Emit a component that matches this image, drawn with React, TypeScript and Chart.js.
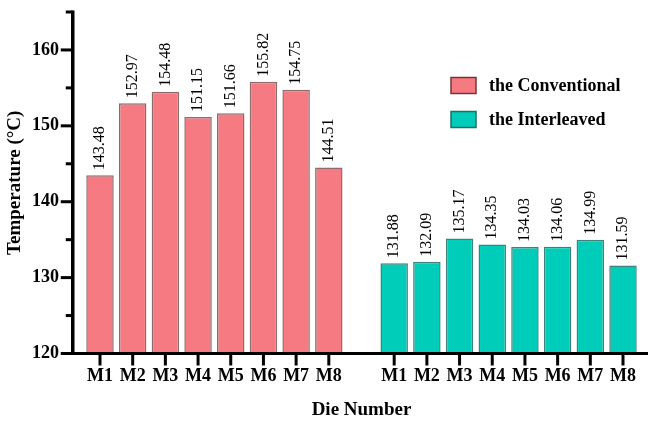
import React, { useEffect, useRef } from "react";
import { Chart, registerables } from "chart.js";

Chart.register(...registerables);

const dies = ["M1", "M2", "M3", "M4", "M5", "M6", "M7", "M8"];
const conventional = [143.48, 152.97, 154.48, 151.15, 151.66, 155.82, 154.75, 144.51];
const interleaved = [131.88, 132.09, 135.17, 134.35, 134.03, 134.06, 134.99, 131.59];
const seriesNames = ["the Conventional", "the Interleaved"];
const seriesColors = ["#F67A81", "#00CDB9"];
const seriesBorders = ["#8d6a6c", "#3d8279"];
const legendBorders = ["#7a3438", "#1f6e66"];
const yMin = 120;
const yMax = 165;
const yStep = 5;
const yLabelStep = 10;
const xTitle = "Die Number";
const yTitle = "Temperature (°C)";

const FONT = "'Liberation Serif', 'Times New Roman', serif";

const axesPlugin = {
  id: "customAxes",
  afterDatasetsDraw(chart: any) {
    const { ctx, scales } = chart;
    const x = scales.x;
    const y = scales.y;
    const axisX = 72.75;
    const axisY = y.getPixelForValue(yMin);
    ctx.save();
    ctx.strokeStyle = "#000";
    ctx.lineCap = "butt";
    ctx.lineWidth = 3.5;
    ctx.beginPath();
    ctx.moveTo(axisX, y.getPixelForValue(yMax) - 1.5);
    ctx.lineTo(axisX, axisY + 1.5);
    ctx.stroke();
    ctx.lineWidth = 3;
    for (let v = yMin; v <= yMax; v += yStep) {
      const py = y.getPixelForValue(v);
      const major = v % yLabelStep === 0;
      ctx.beginPath();
      ctx.moveTo(axisX - (major ? 12 : 7), py);
      ctx.lineTo(axisX, py);
      ctx.stroke();
    }
    ctx.lineWidth = 3;
    ctx.beginPath();
    ctx.moveTo(axisX - 1.75, axisY);
    ctx.lineTo(chart.width, axisY);
    ctx.stroke();
    const labels = chart.data.labels as string[];
    labels.forEach((lab, i) => {
      if (!lab) return;
      const px = x.getPixelForValue(i);
      ctx.beginPath();
      ctx.moveTo(px, axisY);
      ctx.lineTo(px, axisY + 12);
      ctx.stroke();
    });
    ctx.restore();
  },
};

const valueLabelPlugin = {
  id: "valueLabels",
  afterDatasetsDraw(chart: any) {
    const { ctx } = chart;
    ctx.save();
    ctx.fillStyle = "#000";
    ctx.font = `16px ${FONT}`;
    ctx.textAlign = "left";
    ctx.textBaseline = "middle";
    chart.data.datasets.forEach((ds: any, di: number) => {
      const meta = chart.getDatasetMeta(di);
      meta.data.forEach((el: any, i: number) => {
        const v = ds.data[i];
        if (v === null || v === undefined) return;
        ctx.save();
        ctx.translate(el.x, el.y - 5);
        ctx.rotate(-Math.PI / 2);
        ctx.fillText(Number(v).toFixed(2), 0, 0);
        ctx.restore();
      });
    });
    ctx.restore();
  },
};

const legendPlugin = {
  id: "customLegend",
  afterDraw(chart: any) {
    const { ctx } = chart;
    ctx.save();
    chart.data.datasets.forEach((ds: any, i: number) => {
      const bx = 451;
      const by = 77.5 + i * 34;
      ctx.fillStyle = ds.backgroundColor;
      ctx.fillRect(bx, by, 25, 16);
      ctx.strokeStyle = legendBorders[i];
      ctx.lineWidth = 1.5;
      ctx.strokeRect(bx, by, 25, 16);
      ctx.fillStyle = "#000";
      ctx.font = `bold 18px ${FONT}`;
      ctx.textAlign = "left";
      ctx.textBaseline = "middle";
      ctx.fillText(ds.label, 489, by + 8.5);
    });
    ctx.restore();
  },
};

export default function App() {
  const ref = useRef<HTMLCanvasElement>(null);

  useEffect(() => {
    if (!ref.current) return;
    const gap = [""];
    const labels = [...dies, ...gap, ...dies];
    const pad = (n: number) => Array(n).fill(null);
    const convData = [...conventional, ...pad(gap.length + interleaved.length)];
    const interData = [...pad(conventional.length + gap.length), ...interleaved];

    const chart = new Chart(ref.current, {
      type: "bar",
      data: {
        labels,
        datasets: [
          {
            label: seriesNames[0],
            data: convData,
            backgroundColor: seriesColors[0],
            borderColor: seriesBorders[0],
            borderWidth: 1.5,
            grouped: false,
            barPercentage: 0.84,
            categoryPercentage: 1,
          } as any,
          {
            label: seriesNames[1],
            data: interData,
            backgroundColor: seriesColors[1],
            borderColor: seriesBorders[1],
            borderWidth: 1.5,
            grouped: false,
            barPercentage: 0.84,
            categoryPercentage: 1,
          } as any,
        ],
      },
      options: {
        responsive: false,
        animation: false,
        devicePixelRatio: 1,
        layout: { padding: { top: 12, right: 8.65, left: 0, bottom: 0 } },
        plugins: {
          legend: { display: false },
          tooltip: { enabled: false },
        },
        scales: {
          x: {
            type: "category",
            offset: true,
            grid: { display: false, drawTicks: false },
            border: { display: false },
            ticks: {
              color: "#000",
              padding: 12,
              maxRotation: 0,
              autoSkip: false,
              font: { family: FONT, size: 18, weight: "bold" },
            },
            title: {
              display: true,
              text: xTitle,
              color: "#000",
              padding: 0,
              font: { family: FONT, size: 19, weight: "bold" },
            },
            afterFit: (scale: any) => {
              scale.height = 67.5;
              scale.paddingLeft = 0;
              scale.paddingRight = 0;
            },
          },
          y: {
            min: yMin,
            max: yMax,
            grid: { display: false, drawTicks: false },
            border: { display: false },
            ticks: {
              stepSize: yStep,
              color: "#000",
              padding: 24.6,
              font: { family: FONT, size: 18, weight: "bold" },
              callback: (v: any) => (Number(v) % yLabelStep === 0 ? String(v) : ""),
            },
            title: {
              display: true,
              text: yTitle,
              color: "#000",
              padding: { top: 3.6, bottom: 0 },
              font: { family: FONT, size: 19, weight: "bold" },
            },
            afterFit: (scale: any) => {
              scale.width = 83.65;
              scale.paddingTop = 0;
              scale.paddingBottom = 0;
            },
          },
        },
      },
      plugins: [axesPlugin, valueLabelPlugin, legendPlugin],
    });
    return () => chart.destroy();
  }, []);

  return (
    <div style={{ position: "fixed", left: 0, top: 0, width: 648, height: 421, background: "#fff" }}>
      <canvas ref={ref} width={648} height={421} style={{ display: "block" }} />
    </div>
  );
}
